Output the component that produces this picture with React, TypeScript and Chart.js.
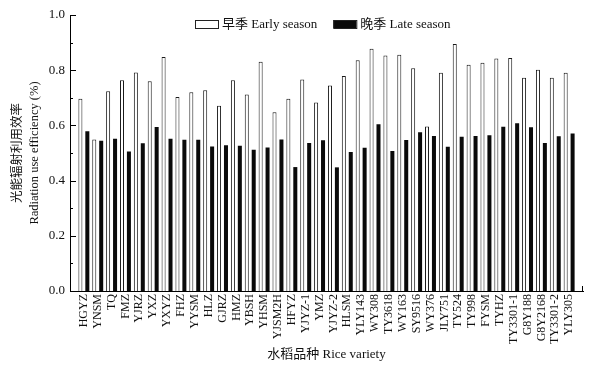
import React, { useEffect, useRef } from 'react';
import { Chart, registerables } from 'chart.js';

Chart.register(...registerables);

const varieties = [
  'HGYZ', 'YNSM', 'TQ', 'FMZ', 'YJRZ', 'YXZ', 'YXYZ', 'FHZ', 'YYSM', 'HLZ', 'GJRZ', 'HMZ',
  'YBSH', 'YHSM', 'YJSM2H', 'HFYZ', 'YJYZ-1', 'YMZ', 'YJYZ-2', 'HLSM', 'YLY143', 'WY308',
  'TY3618', 'WY163', 'SY9516', 'WY376', 'JLY751', 'TY524', 'TY998', 'FYSM', 'TYHZ',
  'TY3301-1', 'G8Y188', 'G8Y2168', 'TY3301-2', 'YLY305',
];

const earlySeason = [
  0.697, 0.549, 0.724, 0.764, 0.792, 0.760, 0.848, 0.703, 0.720, 0.727, 0.671, 0.764,
  0.712, 0.831, 0.648, 0.697, 0.766, 0.683, 0.745, 0.779, 0.836, 0.878,
  0.853, 0.856, 0.807, 0.596, 0.791, 0.895, 0.820, 0.827, 0.842,
  0.844, 0.773, 0.802, 0.773, 0.791,
];

const lateSeason = [
  0.579, 0.544, 0.552, 0.505, 0.535, 0.594, 0.552, 0.548, 0.548, 0.524, 0.528, 0.526,
  0.512, 0.520, 0.549, 0.449, 0.536, 0.546, 0.448, 0.504, 0.519, 0.604,
  0.507, 0.547, 0.575, 0.562, 0.523, 0.559, 0.562, 0.564, 0.595,
  0.608, 0.593, 0.536, 0.561, 0.571,
];

const seriesNames = ['早季 Early season', '晚季 Late season'];
const yTitle = ['光能辐射利用效率', 'Radiation use efficiency (%)'];
const xTitle = '水稻品种 Rice variety';

const FONT = '"Liberation Serif", "Noto Sans CJK SC", serif';

const decorPlugin = {
  id: 'decor',
  afterDraw(chart: any) {
    const { ctx, chartArea, scales } = chart;
    const y = scales.y;
    const x = scales.x;
    ctx.save();
    ctx.strokeStyle = '#000';
    ctx.lineWidth = 1;
    // inward major/minor ticks on y axis
    for (let i = 0; i <= 10; i++) {
      const py = Math.round(y.getPixelForValue(i / 10)) + 0.5;
      const len = i % 2 === 0 ? 6 : 3;
      ctx.beginPath();
      ctx.moveTo(chartArea.left, py);
      ctx.lineTo(chartArea.left + len, py);
      ctx.stroke();
    }
    // small end tick at the right of the x axis
    const px = Math.round(x.right) - 0.5;
    ctx.beginPath();
    ctx.moveTo(px, chartArea.bottom);
    ctx.lineTo(px, chartArea.bottom - 5);
    ctx.stroke();

    // legend
    ctx.font = '13px ' + FONT;
    ctx.textBaseline = 'middle';
    ctx.textAlign = 'left';
    let lx = chartArea.left + 125;
    const ly = chartArea.top + 9;
    chart.data.datasets.forEach((ds: any) => {
      ctx.fillStyle = ds.backgroundColor;
      ctx.fillRect(lx, ly - 4, 23, 8);
      ctx.strokeStyle = '#222';
      ctx.strokeRect(lx + 0.5, ly - 3.5, 23, 8);
      ctx.fillStyle = '#111';
      ctx.fillText(ds.label, lx + 27, ly + 0.5);
      lx += 27 + ctx.measureText(ds.label).width + 16;
    });
    ctx.restore();
  },
};

export default function App() {
  const ref = useRef<HTMLCanvasElement | null>(null);

  useEffect(() => {
    document.body.style.margin = '0';
    const canvas = ref.current;
    if (!canvas) return;
    const labels = ['', ...varieties, ''];
    const chart = new Chart(canvas, {
      type: 'bar',
      data: {
        labels,
        datasets: [
          {
            label: seriesNames[0],
            data: [null, ...earlySeason, null],
            backgroundColor: '#ffffff',
            borderColor: '#1a1a1a',
            borderWidth: 1,
            categoryPercentage: 1,
            barPercentage: 0.58,
          },
          {
            label: seriesNames[1],
            data: [null, ...lateSeason, null],
            backgroundColor: '#0a0a0a',
            borderColor: '#0a0a0a',
            borderWidth: 0,
            categoryPercentage: 1,
            barPercentage: 0.58,
          },
        ],
      },
      options: {
        responsive: false,
        animation: false,
        layout: { padding: { top: 15, right: 30, left: 0, bottom: 0 } },
        plugins: {
          legend: { display: false },
          tooltip: { enabled: false },
        },
        scales: {
          x: {
            type: 'category',
            offset: false,
            grid: { display: false, drawTicks: false },
            border: { display: true, color: '#000', width: 1 },
            ticks: {
              autoSkip: false,
              minRotation: 90,
              maxRotation: 90,
              padding: 3,
              color: '#111',
              font: { family: FONT, size: 12 },
            },
            title: {
              display: true,
              text: xTitle,
              color: '#111',
              font: { family: FONT, size: 13 },
              padding: { top: 0, bottom: 10 },
            },
            afterFit(scale: any) {
              scale.height = 81;
            },
          },
          y: {
            min: 0,
            max: 1,
            grid: { display: false, drawTicks: false },
            border: { display: true, color: '#000', width: 1 },
            ticks: {
              stepSize: 0.2,
              padding: 5,
              color: '#111',
              font: { family: FONT, size: 13 },
              callback: (v: any) => Number(v).toFixed(1),
            },
            title: {
              display: true,
              text: yTitle,
              color: '#111',
              font: { family: FONT, size: 12.5, lineHeight: 1.36 },
              padding: { top: 9.5, bottom: 0 },
            },
            afterFit(scale: any) {
              scale.width = 70;
            },
          },
        },
      },
      plugins: [decorPlugin],
    } as any);
    return () => chart.destroy();
  }, []);

  return (
    <div style={{ width: 613, height: 372, overflow: 'hidden', background: '#fff' }}>
      <canvas ref={ref} width={613} height={372} style={{ display: 'block' }} />
    </div>
  );
}
